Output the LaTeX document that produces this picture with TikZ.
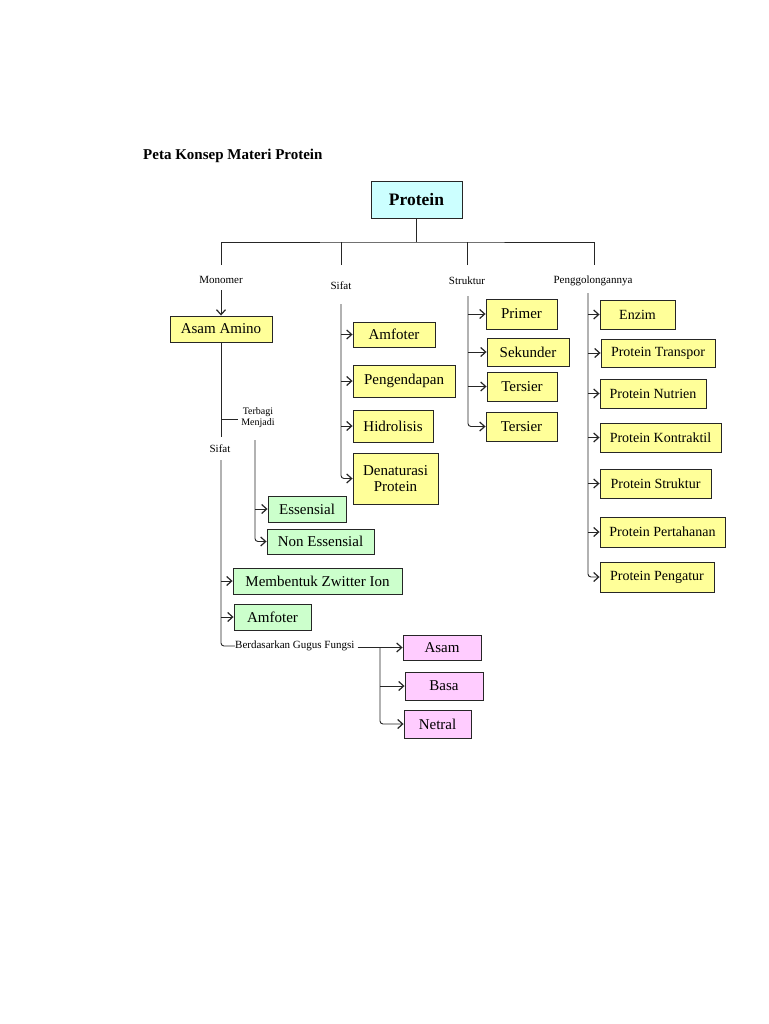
\documentclass[tikz,border=0pt]{standalone}
\usepackage{fontspec}
\setmainfont{Liberation Serif}
\usetikzlibrary{arrows.meta}
\definecolor{byel}{HTML}{FFFF99}
\definecolor{bgrn}{HTML}{CCFFCC}
\definecolor{bpnk}{HTML}{FFCCFF}
\definecolor{bcyn}{HTML}{CCFFFF}
\begin{document}
\begin{tikzpicture}[x=1pt,y=-1pt,
  bx/.style={draw=black!85,line width=0.9pt,inner sep=0pt,align=center,font=\fontsize{15}{16.5}\selectfont},
  yb/.style={bx,fill=byel},
  yr/.style={bx,fill=byel,font=\fontsize{14}{15.5}\selectfont},
  gb/.style={bx,fill=bgrn},
  pb/.style={bx,fill=bpnk},
  lbl/.style={inner sep=0pt,font=\fontsize{11}{12}\selectfont,align=center},
  ln/.style={line width=0.9pt,black!85},
  arr/.style={ln,-{Straight Barb[length=5pt,width=9pt,line width=1.2pt]}},
  rarr/.style={arr,rounded corners=3pt}]
\useasboundingbox[fill=white] (0,0) rectangle (768,1024);
% title
\node[anchor=west,inner sep=0pt,font=\fontsize{15}{17}\bfseries\selectfont] (title) at (143,156) {Peta Konsep Materi Protein};
% root
\node[bx,fill=bcyn,minimum width=91,minimum height=37,font=\fontsize{17.5}{19}\bfseries\selectfont] (prot) at (416.5,199.5) {Protein};
\coordinate (h) at (416.5,242);
\coordinate (d1) at (221,265);
\coordinate (d2) at (341,265);
\coordinate (d3) at (467,265);
\coordinate (d4) at (594,265);
\draw[ln] (prot.south) -- (h);
\draw[ln] (d1) |- (h) -| (d4);
\draw[ln] (d2) -- (d2 |- h);
\draw[ln] (d3) -- (d3 |- h);
% category labels
\node[lbl] (mono) at (221,280) {Monomer};
\node[lbl] (sif) at (341,286) {Sifat};
\node[lbl] (str) at (467,281) {Struktur};
\node[lbl] (gol) at (593,281) {Penggolongannya};
% Monomer branch
\node[yb,minimum width=102,minimum height=26] (aa) at (221,329) {Asam Amino};
\draw[arr] (mono.south |- 0,290) -- (aa.north);
\node[lbl,font=\fontsize{10}{11}\selectfont] (terb) at (258,418) {Terbagi\\Menjadi};
\node[lbl] (sif2) at (220,449) {Sifat};
\coordinate (tb) at (221,419);
\draw[ln] (aa.south) -- (aa.south |- 0,437);
\draw[ln] (tb) -- (238,419);
% Terbagi menjadi
\node[gb,minimum width=78,minimum height=26] (ess) at (307,509) {Essensial};
\node[gb,minimum width=107,minimum height=25] (ness) at (320.5,541.5) {Non Essensial};
\coordinate (t0) at (255,440);
\draw[arr] (t0 |- ess.west) -- (ess.west);
\draw[rarr] (t0) |- (ness.west);
% Sifat (asam amino)
\node[gb,minimum width=169,minimum height=26] (zw) at (317.5,581) {Membentuk Zwitter Ion};
\node[gb,minimum width=77,minimum height=26] (amf2) at (272.5,617) {Amfoter};
\node[lbl,anchor=west] (berd) at (235,646) {Berdasarkan Gugus Fungsi};
\coordinate (s1) at (221,460);
\draw[arr] (s1 |- zw.west) -- (zw.west);
\draw[arr] (s1 |- amf2.west) -- (amf2.west);
\draw[ln,rounded corners=3pt] (s1) |- (berd.west);
% gugus fungsi
\node[pb,minimum width=78,minimum height=25] (asam) at (442,647.5) {Asam};
\node[pb,minimum width=78,minimum height=28] (basa) at (444,686) {Basa};
\node[pb,minimum width=67,minimum height=28] (netr) at (437.5,724) {Netral};
\coordinate (g0) at (380,647.5);
\draw[arr] ([xshift=3pt]berd.east |- asam.west) -- (asam.west);
\draw[arr] (g0 |- basa.west) -- (basa.west);
\draw[rarr] (g0) |- (netr.west);
% Sifat (protein)
\node[yb,minimum width=82,minimum height=25] (amf) at (394,334.5) {Amfoter};
\node[yb,minimum width=102,minimum height=32] (peng) at (404,381) {Pengendapan};
\node[yb,minimum width=80,minimum height=32] (hidr) at (393,426) {Hidrolisis};
\node[yb,minimum width=85,minimum height=51] (den) at (395.5,478.5) {Denaturasi\\Protein};
\coordinate (p0) at (341,304);
\draw[arr] (p0 |- amf.west) -- (amf.west);
\draw[arr] (p0 |- peng.west) -- (peng.west);
\draw[arr] (p0 |- hidr.west) -- (hidr.west);
\draw[rarr] (p0) |- (den.west);
% Struktur
\node[yb,minimum width=71,minimum height=30] (prim) at (521.5,314) {Primer};
\node[yb,minimum width=82,minimum height=28] (sek) at (528,352) {Sekunder};
\node[yb,minimum width=70,minimum height=29] (ter1) at (522,386.5) {Tersier};
\node[yb,minimum width=71,minimum height=29] (ter2) at (521.5,426.5) {Tersier};
\coordinate (q0) at (468,296);
\draw[arr] (q0 |- prim.west) -- (prim.west);
\draw[arr] (q0 |- sek.west) -- (sek.west);
\draw[arr] (q0 |- ter1.west) -- (ter1.west);
\draw[rarr] (q0) |- (ter2.west);
% Penggolongannya
\node[yr,minimum width=75,minimum height=29] (enz) at (637.5,314.5) {Enzim};
\node[yr,minimum width=114,minimum height=28] (trp) at (658,353) {Protein Transpor};
\node[yr,minimum width=106,minimum height=29] (nut) at (653,393.5) {Protein Nutrien};
\node[yr,minimum width=121,minimum height=29] (kon) at (660.5,437.5) {Protein Kontraktil};
\node[yr,minimum width=111,minimum height=29] (stk) at (655.5,483.5) {Protein Struktur};
\node[yr,minimum width=125,minimum height=30] (pth) at (662.5,532) {Protein Pertahanan};
\node[yr,minimum width=114,minimum height=30] (pgt) at (657,577) {Protein Pengatur};
\coordinate (r0) at (588,293);
\draw[arr] (r0 |- enz.west) -- (enz.west);
\draw[arr] (r0 |- trp.west) -- (trp.west);
\draw[arr] (r0 |- nut.west) -- (nut.west);
\draw[arr] (r0 |- kon.west) -- (kon.west);
\draw[arr] (r0 |- stk.west) -- (stk.west);
\draw[arr] (r0 |- pth.west) -- (pth.west);
\draw[rarr] (r0) |- (pgt.west);
\end{tikzpicture}
\end{document}
